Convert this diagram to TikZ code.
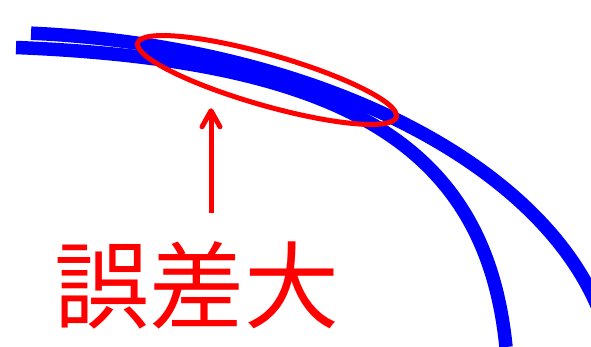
\documentclass[tikz,border=0pt]{standalone}
\usepackage{fontspec}
\newfontfamily\cjk{Noto Sans CJK JP}
\usetikzlibrary{arrows.meta,shapes.geometric}
\begin{document}
\begin{tikzpicture}[x=1pt,y=-1pt,
  arcline/.style={draw=blue, line width=13.5pt},
  zone/.style={ellipse, draw=red, line width=5pt, inner sep=0pt,
    minimum width=269pt, minimum height=51pt, rotate=-16},
  marklabel/.style={text=red, inner sep=0pt, font=\cjk\fontsize{95}{95}\selectfont},
  pointer/.style={draw=red, line width=5pt, -{Straight Barb[round,length=16pt,width=18pt]}}]
\useasboundingbox (0,0) rectangle (591,347);
\clip (0,0) rectangle (591,347);
% outer arc
\draw[arcline] plot[domain=85.39:3, samples=180] ({-20+635*cos(\x)}, {390-358*sin(\x)});
% inner arc
\draw[arcline] (16,47.5) .. controls (346,60.7) and (486,147) .. (506,347);
% error zone
\node[zone] (errzone) at (267,80) {};
% label
\node[marklabel] (label) at (196.5,285) {誤差大};
% arrow
\coordinate (from) at (211,213);
\coordinate (to) at (211,108.3);
\draw[pointer] (from) -- (to);
\end{tikzpicture}
\end{document}
